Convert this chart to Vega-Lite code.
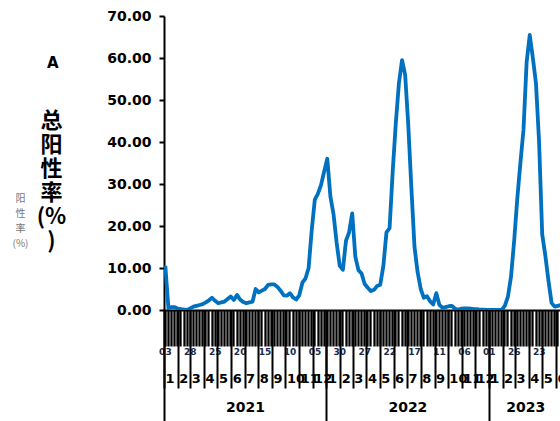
{
  "$schema": "https://vega.github.io/schema/vega-lite/v6.json",
  "autosize": "none",
  "width": 396,
  "height": 294,
  "padding": {"left": 164, "top": 16, "right": 0, "bottom": 111},
  "background": "white",
  "config": {
    "view": {"stroke": null},
    "axis": {"labelFont": "DejaVu Sans", "labelColor": "#000", "domainColor": "#000", "tickColor": "#000", "grid": false, "titleColor": "#000"}
  },
  "title": {"text": "A", "anchor": "start", "frame": "group", "font": "DejaVu Sans", "fontSize": 15, "fontWeight": "bold", "color": "#000", "align": "left", "baseline": "top", "offset": 0, "dx": -117, "dy": 62},
  "data": {"values": [
    {"date": "2021-01-04T00:00", "rate": 10.5},
    {"date": "2021-01-11T00:00", "rate": 0.4},
    {"date": "2021-01-18T00:00", "rate": 0.7},
    {"date": "2021-01-25T00:00", "rate": 0.7},
    {"date": "2021-02-01T00:00", "rate": 0.3},
    {"date": "2021-02-08T00:00", "rate": 0.2},
    {"date": "2021-02-15T00:00", "rate": 0.1},
    {"date": "2021-02-22T00:00", "rate": 0.0},
    {"date": "2021-03-01T00:00", "rate": 0.4},
    {"date": "2021-03-08T00:00", "rate": 0.8},
    {"date": "2021-03-15T00:00", "rate": 1.0},
    {"date": "2021-03-22T00:00", "rate": 1.2},
    {"date": "2021-03-29T00:00", "rate": 1.4},
    {"date": "2021-04-05T00:00", "rate": 1.8},
    {"date": "2021-04-12T00:00", "rate": 2.3},
    {"date": "2021-04-19T00:00", "rate": 2.9},
    {"date": "2021-04-26T00:00", "rate": 2.2},
    {"date": "2021-05-03T00:00", "rate": 1.6},
    {"date": "2021-05-10T00:00", "rate": 1.8},
    {"date": "2021-05-17T00:00", "rate": 2.0},
    {"date": "2021-05-24T00:00", "rate": 2.6},
    {"date": "2021-05-31T00:00", "rate": 3.2},
    {"date": "2021-06-07T00:00", "rate": 2.4},
    {"date": "2021-06-14T00:00", "rate": 3.6},
    {"date": "2021-06-21T00:00", "rate": 2.5},
    {"date": "2021-06-28T00:00", "rate": 1.9},
    {"date": "2021-07-05T00:00", "rate": 1.6},
    {"date": "2021-07-12T00:00", "rate": 1.8},
    {"date": "2021-07-19T00:00", "rate": 2.0},
    {"date": "2021-07-26T00:00", "rate": 5.0},
    {"date": "2021-08-02T00:00", "rate": 4.2},
    {"date": "2021-08-09T00:00", "rate": 4.6},
    {"date": "2021-08-16T00:00", "rate": 5.0},
    {"date": "2021-08-23T00:00", "rate": 6.0},
    {"date": "2021-08-30T00:00", "rate": 6.1},
    {"date": "2021-09-06T00:00", "rate": 6.1},
    {"date": "2021-09-13T00:00", "rate": 5.5},
    {"date": "2021-09-20T00:00", "rate": 4.6},
    {"date": "2021-09-27T00:00", "rate": 3.5},
    {"date": "2021-10-04T00:00", "rate": 3.4},
    {"date": "2021-10-11T00:00", "rate": 4.0},
    {"date": "2021-10-18T00:00", "rate": 3.0},
    {"date": "2021-10-25T00:00", "rate": 2.5},
    {"date": "2021-11-01T00:00", "rate": 3.5},
    {"date": "2021-11-08T00:00", "rate": 6.5},
    {"date": "2021-11-15T00:00", "rate": 7.5},
    {"date": "2021-11-22T00:00", "rate": 10.0},
    {"date": "2021-11-29T00:00", "rate": 19.0},
    {"date": "2021-12-06T00:00", "rate": 26.3},
    {"date": "2021-12-13T00:00", "rate": 27.7},
    {"date": "2021-12-20T00:00", "rate": 29.8},
    {"date": "2021-12-27T00:00", "rate": 33.0},
    {"date": "2022-01-03T00:00", "rate": 36.0},
    {"date": "2022-01-10T00:00", "rate": 27.0},
    {"date": "2022-01-17T00:00", "rate": 22.8},
    {"date": "2022-01-24T00:00", "rate": 16.0},
    {"date": "2022-01-31T00:00", "rate": 10.5},
    {"date": "2022-02-07T00:00", "rate": 9.6},
    {"date": "2022-02-14T00:00", "rate": 16.5},
    {"date": "2022-02-21T00:00", "rate": 18.5},
    {"date": "2022-02-28T00:00", "rate": 23.0},
    {"date": "2022-03-07T00:00", "rate": 12.7},
    {"date": "2022-03-14T00:00", "rate": 9.5},
    {"date": "2022-03-21T00:00", "rate": 8.7},
    {"date": "2022-03-28T00:00", "rate": 6.2},
    {"date": "2022-04-04T00:00", "rate": 5.3},
    {"date": "2022-04-11T00:00", "rate": 4.5},
    {"date": "2022-04-18T00:00", "rate": 4.8},
    {"date": "2022-04-25T00:00", "rate": 5.7},
    {"date": "2022-05-02T00:00", "rate": 6.0},
    {"date": "2022-05-09T00:00", "rate": 10.5},
    {"date": "2022-05-16T00:00", "rate": 18.5},
    {"date": "2022-05-23T00:00", "rate": 19.5},
    {"date": "2022-05-30T00:00", "rate": 33.0},
    {"date": "2022-06-06T00:00", "rate": 44.5},
    {"date": "2022-06-13T00:00", "rate": 54.0},
    {"date": "2022-06-20T00:00", "rate": 59.5},
    {"date": "2022-06-27T00:00", "rate": 56.0},
    {"date": "2022-07-04T00:00", "rate": 44.0},
    {"date": "2022-07-11T00:00", "rate": 29.0},
    {"date": "2022-07-18T00:00", "rate": 15.0},
    {"date": "2022-07-25T00:00", "rate": 9.0},
    {"date": "2022-08-01T00:00", "rate": 5.0},
    {"date": "2022-08-08T00:00", "rate": 2.9},
    {"date": "2022-08-15T00:00", "rate": 3.3},
    {"date": "2022-08-22T00:00", "rate": 2.1},
    {"date": "2022-08-29T00:00", "rate": 1.3},
    {"date": "2022-09-05T00:00", "rate": 4.0},
    {"date": "2022-09-12T00:00", "rate": 1.2},
    {"date": "2022-09-19T00:00", "rate": 0.5},
    {"date": "2022-09-26T00:00", "rate": 0.7},
    {"date": "2022-10-03T00:00", "rate": 0.9},
    {"date": "2022-10-10T00:00", "rate": 1.0},
    {"date": "2022-10-17T00:00", "rate": 0.3},
    {"date": "2022-10-24T00:00", "rate": 0.1},
    {"date": "2022-10-31T00:00", "rate": 0.3},
    {"date": "2022-11-07T00:00", "rate": 0.4},
    {"date": "2022-11-14T00:00", "rate": 0.4},
    {"date": "2022-11-21T00:00", "rate": 0.3},
    {"date": "2022-11-28T00:00", "rate": 0.2},
    {"date": "2022-12-05T00:00", "rate": 0.2},
    {"date": "2022-12-12T00:00", "rate": 0.1},
    {"date": "2022-12-19T00:00", "rate": 0.1},
    {"date": "2022-12-26T00:00", "rate": 0.0},
    {"date": "2023-01-02T00:00", "rate": 0.0},
    {"date": "2023-01-09T00:00", "rate": 0.0},
    {"date": "2023-01-16T00:00", "rate": 0.0},
    {"date": "2023-01-23T00:00", "rate": 0.0},
    {"date": "2023-01-30T00:00", "rate": 0.0},
    {"date": "2023-02-06T00:00", "rate": 1.0},
    {"date": "2023-02-13T00:00", "rate": 3.2},
    {"date": "2023-02-20T00:00", "rate": 8.0},
    {"date": "2023-02-27T00:00", "rate": 16.5},
    {"date": "2023-03-06T00:00", "rate": 26.5},
    {"date": "2023-03-13T00:00", "rate": 35.0},
    {"date": "2023-03-20T00:00", "rate": 43.0},
    {"date": "2023-03-27T00:00", "rate": 59.0},
    {"date": "2023-04-03T00:00", "rate": 65.5},
    {"date": "2023-04-10T00:00", "rate": 60.0},
    {"date": "2023-04-17T00:00", "rate": 54.0},
    {"date": "2023-04-24T00:00", "rate": 40.0},
    {"date": "2023-05-01T00:00", "rate": 18.0},
    {"date": "2023-05-08T00:00", "rate": 13.0},
    {"date": "2023-05-15T00:00", "rate": 7.0},
    {"date": "2023-05-22T00:00", "rate": 1.7},
    {"date": "2023-05-29T00:00", "rate": 0.8},
    {"date": "2023-06-05T00:00", "rate": 1.0},
    {"date": "2023-06-12T00:00", "rate": 1.2}
  ]},
  "layer": [
    {
      "mark": {"type": "line", "color": "#0070C0", "strokeWidth": 3.8, "clip": true, "strokeJoin": "round"},
      "encoding": {
        "x": {"field": "date", "type": "temporal",
          "scale": {"domain": [{"year": 2021, "month": 1, "date": 1}, {"year": 2023, "month": 6, "date": 10}]},
          "axis": {"orient": "bottom", "title": null, "domain": true, "domainWidth": 2, "tickCount": {"interval": "week", "step": 1}, "tickSize": 36, "tickWidth": 2.3, "format": "%d", "labelFontSize": 9, "labelFontWeight": "bold", "labelColor": "#1a2a4a", "labelPadding": 1, "labelOverlap": "parity", "labelFlush": false, "labelBound": false}},
        "y": {"field": "rate", "type": "quantitative",
          "scale": {"domain": [0, 70], "nice": false},
          "axis": {"values": [0, 10, 20, 30, 40, 50, 60, 70], "format": ".2f", "domainWidth": 2, "tickSize": 5, "tickWidth": 2, "labelFontSize": 14, "labelFontWeight": "bold", "labelPadding": 8,
            "title": ["总", "阳", "性", "率", "(%", ")"], "titleAngle": 0, "titleX": -113, "titleY": 94, "titleAlign": "center", "titleBaseline": "top", "titleFont": "Noto Sans CJK SC", "titleFontSize": 22, "titleFontWeight": "bold", "titleLineHeight": 24}}
      }
    },
    {
      "mark": {"type": "line", "opacity": 0},
      "encoding": {
        "x": {"field": "date", "type": "temporal",
          "axis": {"orient": "bottom", "title": null, "domain": false,
            "values": [
              {"year": 2021, "month": 1, "date": 1}, {"year": 2021, "month": 2, "date": 1}, {"year": 2021, "month": 3, "date": 1}, {"year": 2021, "month": 4, "date": 1}, {"year": 2021, "month": 5, "date": 1}, {"year": 2021, "month": 6, "date": 1},
              {"year": 2021, "month": 7, "date": 1}, {"year": 2021, "month": 8, "date": 1}, {"year": 2021, "month": 9, "date": 1}, {"year": 2021, "month": 10, "date": 1}, {"year": 2021, "month": 11, "date": 1}, {"year": 2021, "month": 12, "date": 1},
              {"year": 2022, "month": 1, "date": 1}, {"year": 2022, "month": 2, "date": 1}, {"year": 2022, "month": 3, "date": 1}, {"year": 2022, "month": 4, "date": 1}, {"year": 2022, "month": 5, "date": 1}, {"year": 2022, "month": 6, "date": 1},
              {"year": 2022, "month": 7, "date": 1}, {"year": 2022, "month": 8, "date": 1}, {"year": 2022, "month": 9, "date": 1}, {"year": 2022, "month": 10, "date": 1}, {"year": 2022, "month": 11, "date": 1}, {"year": 2022, "month": 12, "date": 1},
              {"year": 2023, "month": 1, "date": 1}, {"year": 2023, "month": 2, "date": 1}, {"year": 2023, "month": 3, "date": 1}, {"year": 2023, "month": 4, "date": 1}, {"year": 2023, "month": 5, "date": 1}, {"year": 2023, "month": 6, "date": 1}
            ],
            "format": "%-m", "tickSize": 78, "tickWidth": 2, "labelFontSize": 13, "labelFontWeight": "bold", "labelAlign": "left", "labelBaseline": "top", "labelOffset": 1, "labelPadding": -16, "labelOverlap": false, "labelFlush": false, "labelBound": false}},
        "y": {"field": "rate", "type": "quantitative",
          "axis": {"orient": "left", "domain": false, "ticks": false, "labels": false, "grid": false,
            "title": ["阳", "性", "率", "(%)"], "titleAngle": 0, "titleX": -144, "titleY": 177, "titleAlign": "center", "titleBaseline": "top", "titleFont": "Noto Sans CJK SC", "titleFontSize": 10, "titleFontWeight": "normal", "titleColor": "#777777", "titleLineHeight": 15}}
      }
    },
    {
      "mark": {"type": "line", "opacity": 0},
      "encoding": {
        "x": {"field": "date", "type": "temporal",
          "axis": {"orient": "bottom", "title": null, "domain": false, "labels": false,
            "values": [{"year": 2021, "month": 1, "date": 1}, {"year": 2022, "month": 1, "date": 1}, {"year": 2023, "month": 1, "date": 1}],
            "tickSize": 111, "tickWidth": 2}},
        "y": {"field": "rate", "type": "quantitative", "axis": null}
      }
    },
    {
      "mark": {"type": "line", "opacity": 0},
      "encoding": {
        "x": {"field": "date", "type": "temporal",
          "axis": {"orient": "bottom", "title": null, "domain": false, "ticks": false, "tickSize": 0,
            "values": [{"year": 2021, "month": 7, "date": 2}, {"year": 2022, "month": 7, "date": 2}, {"year": 2023, "month": 3, "date": 24}],
            "format": "%Y", "labelFontSize": 14, "labelFontWeight": "bold", "labelAlign": "center", "labelBaseline": "top", "labelPadding": 90, "labelOverlap": false, "labelFlush": false, "labelBound": false}},
        "y": {"field": "rate", "type": "quantitative", "axis": null}
      }
    }
  ],
  "resolve": {"axis": {"x": "independent", "y": "independent"}}
}
